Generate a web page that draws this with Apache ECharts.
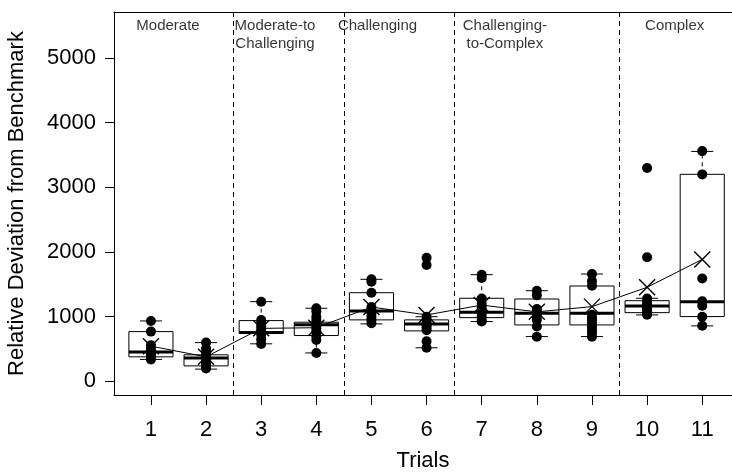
<!DOCTYPE html>
<html>
<head>
<meta charset="utf-8">
<script src="https://cdn.jsdelivr.net/npm/echarts@6/dist/echarts.min.js"></script>
<style>
  html, body { margin: 0; padding: 0; background: #fff; }
  #chart { width: 732px; height: 474px; }
</style>
</head>
<body>
<div id="chart"></div>
<script>
// values
const trials = [1, 2, 3, 4, 5, 6, 7, 8, 9, 10, 11];
const boxLow  = [340, 190, 581, 440, 889, 520, 925, 693, 693, 1028, 858];
const boxQ1   = [380, 240, 740, 709, 951, 781, 986, 873, 873, 1063, 1002];
const boxMed  = [453, 360, 755, 874, 1090, 889, 1069, 1054, 1054, 1166, 1233];
const boxQ3   = [770, 411, 940, 915, 1371, 951, 1285, 1274, 1475, 1248, 3201];
const boxHigh = [935, 600, 1233, 1131, 1578, 1000, 1650, 1402, 1660, 1285, 3555];
const means   = [545, 380, 820, 830, 1150, 1028, 1180, 1075, 1156, 1455, 1886];
const points = [
  [935, 770, 560, 500, 460, 430, 400, 370, 340],
  [600, 510, 450, 400, 360, 320, 280, 240, 200],
  [1230, 950, 900, 850, 800, 760, 720, 650, 580],
  [1130, 1080, 1000, 950, 900, 870, 820, 770, 700, 640, 440],
  [1580, 1540, 1370, 1150, 1100, 1050, 1000, 950, 900],
  [1910, 1800, 1000, 950, 900, 870, 830, 790, 620, 520],
  [1650, 1600, 1280, 1200, 1150, 1100, 1050, 1000, 950, 925],
  [1400, 1330, 1120, 1080, 1050, 1000, 950, 850, 690],
  [1660, 1550, 1480, 1030, 980, 940, 900, 850, 800, 750, 690],
  [3300, 1920, 1280, 1230, 1200, 1170, 1130, 1100, 1060, 1030],
  [3560, 3200, 1590, 1240, 1170, 1000, 860]
];
const yTicks = [0, 1000, 2000, 3000, 4000, 5000];
const groupBreaks = [2.5, 4.5, 6.5, 9.5];
const groupNames = ['Moderate', 'Moderate-to\nChallenging', 'Challenging', 'Challenging-\nto-Complex', 'Complex'];

const FONT = '"Liberation Sans", Arial, Helvetica, sans-serif';
// where the group titles sit (x in trial units, y = text top in axis units)
const groupLabelX = [1.31, 3.25, 5.11, 7.42, 10.5];
const groupLabelTop = 5640;
const X_MIN = 0.33, X_MAX = 11.54; // plot runs past the right edge of the picture

const boxData = trials.map((t, i) => [t, boxLow[i], boxQ1[i], boxMed[i], boxQ3[i], boxHigh[i]]);
const dotData = [];
points.forEach((arr, i) => arr.forEach(v => dotData.push([trials[i], v])));
const meanData = trials.map((t, i) => [t, means[i]]);

function renderBox(params, api) {
  const x = api.value(0);
  const cx = api.coord([x, 0])[0];
  const half = api.size([0.8, 0])[0] / 2;
  const cap = half / 2;
  const yL = api.coord([x, api.value(1)])[1];
  const y1 = api.coord([x, api.value(2)])[1];
  const yM = api.coord([x, api.value(3)])[1];
  const y3 = api.coord([x, api.value(4)])[1];
  const yH = api.coord([x, api.value(5)])[1];
  const thin = { stroke: '#000', lineWidth: 1, fill: null };
  const dash = { stroke: '#000', lineWidth: 1, lineDash: [4, 4] };
  return {
    type: 'group',
    children: [
      { type: 'line', shape: { x1: cx, y1: y3, x2: cx, y2: yH }, style: dash },
      { type: 'line', shape: { x1: cx, y1: y1, x2: cx, y2: yL }, style: dash },
      { type: 'line', shape: { x1: cx - cap, y1: yH, x2: cx + cap, y2: yH }, style: thin },
      { type: 'line', shape: { x1: cx - cap, y1: yL, x2: cx + cap, y2: yL }, style: thin },
      { type: 'rect', shape: { x: cx - half, y: y3, width: half * 2, height: y1 - y3 }, style: { stroke: '#000', lineWidth: 1, fill: 'none' } },
      { type: 'line', shape: { x1: cx - half, y1: yM, x2: cx + half, y2: yM }, style: { stroke: '#000', lineWidth: 3 } }
    ]
  };
}

function renderCross(params, api) {
  const p = api.coord([api.value(0), api.value(1)]);
  const s = 8;
  const st = { stroke: '#000', lineWidth: 1.4 };
  return {
    type: 'group',
    children: [
      { type: 'line', shape: { x1: p[0] - s, y1: p[1] - s, x2: p[0] + s, y2: p[1] + s }, style: st },
      { type: 'line', shape: { x1: p[0] - s, y1: p[1] + s, x2: p[0] + s, y2: p[1] - s }, style: st }
    ]
  };
}

const chart = echarts.init(document.getElementById('chart'));
chart.setOption({
  animation: false,
  backgroundColor: '#fff',
  grid: { left: 114, top: 12, right: 0, bottom: 79, show: false, outerBoundsMode: 'none' },
  xAxis: [{
    type: 'value', min: X_MIN, max: X_MAX,
    name: 'Trials', nameLocation: 'middle', nameGap: 55,
    nameTextStyle: { fontFamily: FONT, fontSize: 22, color: '#000' },
    axisLine: { show: true, onZero: false, lineStyle: { color: '#000' } },
    axisTick: { show: true, length: 10, customValues: trials, lineStyle: { color: '#000' } },
    axisLabel: { customValues: trials, margin: 24, fontFamily: FONT, fontSize: 22, color: '#000' },
    splitLine: { show: false }
  }, {
    // top edge of the plot box
    type: 'value', position: 'top', min: X_MIN, max: X_MAX,
    axisLine: { show: true, onZero: false, lineStyle: { color: '#000' } },
    axisTick: { show: false }, axisLabel: { show: false }, splitLine: { show: false }
  }],
  yAxis: {
    type: 'value', min: -210, max: 5710,
    name: 'Relative Deviation from Benchmark', nameLocation: 'middle', nameGap: 86,
    nameTextStyle: { fontFamily: FONT, fontSize: 22, color: '#000' },
    axisLine: { show: true, lineStyle: { color: '#000' } },
    axisTick: { show: true, length: 9, customValues: yTicks, lineStyle: { color: '#000' } },
    axisLabel: {
      customValues: yTicks, margin: 18, formatter: v => String(v),
      fontFamily: FONT, fontSize: 22, color: '#000'
    },
    splitLine: { show: false }
  },
  series: [
    {
      type: 'custom', name: 'boxes', renderItem: renderBox, data: boxData, z: 2,
      encode: { x: 0, y: [1, 2, 3, 4, 5] }, silent: true
    },
    {
      type: 'scatter', name: 'points', data: dotData, symbol: 'circle', symbolSize: 10,
      itemStyle: { color: '#000', opacity: 1 }, z: 3, silent: true
    },
    {
      type: 'line', name: 'mean', data: meanData, showSymbol: false, z: 4, silent: true,
      lineStyle: { color: '#000', width: 1 },
      markLine: {
        silent: true, symbol: 'none', label: { show: false },
        lineStyle: { color: '#000', width: 1, type: [5, 4] },
        data: groupBreaks.map(v => ({ xAxis: v }))
      }
    },
    {
      type: 'custom', name: 'meanCross', renderItem: renderCross, data: meanData, z: 5, silent: true
    },
    {
      type: 'scatter', name: 'groups', symbolSize: 0, silent: true, z: 6,
      data: groupNames.map((n, i) => ({ value: [groupLabelX[i], groupLabelTop], name: n })),
      label: {
        show: true, position: 'bottom', distance: 0, formatter: p => p.name,
        fontFamily: FONT, fontSize: 15, lineHeight: 18, color: '#000', align: 'center'
      }
    }
  ]
});
</script>
</body>
</html>
